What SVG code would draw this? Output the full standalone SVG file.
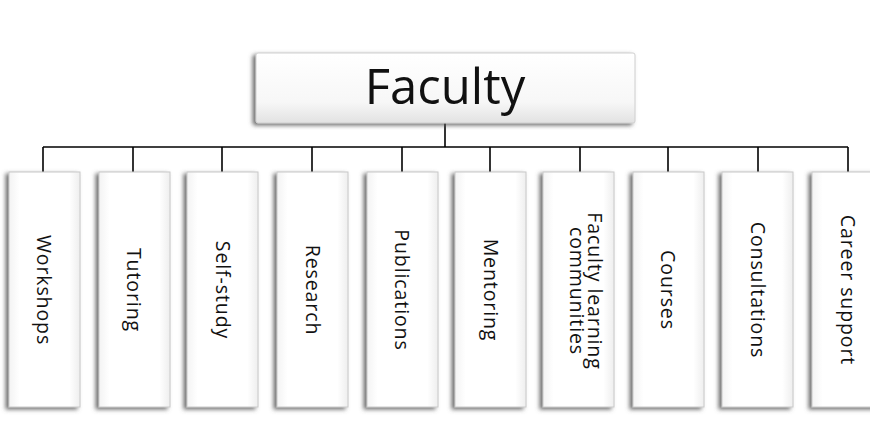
<svg xmlns="http://www.w3.org/2000/svg" width="870" height="446" viewBox="0 0 870 446">
  <defs>
    <filter id="shadow" x="-30%" y="-10%" width="160%" height="120%">
      <feGaussianBlur in="SourceAlpha" stdDeviation="2"/>
      <feOffset dx="-3" dy="2" result="b"/>
      <feFlood flood-color="#555" flood-opacity="0.85"/>
      <feComposite in2="b" operator="in"/>
      <feMerge><feMergeNode/><feMergeNode in="SourceGraphic"/></feMerge>
    </filter>
    <linearGradient id="topFill" x1="0" y1="0" x2="0" y2="1">
      <stop offset="0" stop-color="#ffffff"/>
      <stop offset="0.7" stop-color="#f7f7f7"/>
      <stop offset="1" stop-color="#e2e2e2"/>
    </linearGradient>
    <linearGradient id="childFill" x1="0" y1="0" x2="1" y2="0">
      <stop offset="0" stop-color="#f3f3f3"/>
      <stop offset="0.15" stop-color="#ffffff"/>
      <stop offset="0.85" stop-color="#ffffff"/>
      <stop offset="1" stop-color="#eeeeee"/>
    </linearGradient>
  </defs>
  <style>
    .box { fill: url(#childFill); stroke: #c8c8c8; stroke-width: 1; filter: url(#shadow); }
    .top { fill: url(#topFill); stroke: #cfcfcf; stroke-width: 1; filter: url(#shadow); }
    .lbl { font-family: "Open Sans", "Liberation Sans", sans-serif; font-size: 19.5px; letter-spacing: 0.9px; fill: #111; text-anchor: middle; }
    .title { font-family: "Open Sans", "Liberation Sans", sans-serif; font-size: 49px; fill: #111; text-anchor: middle; }
    .wire { stroke: #000; stroke-width: 1.6; fill: none; }
  </style>

  <!-- connectors -->
  <g id="connectors">
    <line class="wire" x1="445" y1="123" x2="445" y2="147" stroke-width="3"/>
    <line class="wire" x1="43" y1="147" x2="848" y2="147"/>
    <line class="wire" x1="43" y1="147" x2="43" y2="172"/>
    <line class="wire" x1="133" y1="147" x2="133" y2="172"/>
    <line class="wire" x1="222" y1="147" x2="222" y2="172"/>
    <line class="wire" x1="312" y1="147" x2="312" y2="172"/>
    <line class="wire" x1="402" y1="147" x2="402" y2="172"/>
    <line class="wire" x1="490" y1="147" x2="490" y2="172"/>
    <line class="wire" x1="580" y1="147" x2="580" y2="172"/>
    <line class="wire" x1="668" y1="147" x2="668" y2="172"/>
    <line class="wire" x1="758" y1="147" x2="758" y2="172"/>
    <line class="wire" x1="848" y1="147" x2="848" y2="172"/>
  </g>

  <!-- root -->
  <g id="faculty">
    <rect class="top" x="256" y="53" width="379" height="70" rx="2"/>
    <text class="title" x="445" y="104">Faculty</text>
  </g>

  <!-- children -->
  <g id="workshops">
    <rect class="box" x="9" y="172" width="71" height="235"/>
    <text class="lbl" transform="translate(37 290) rotate(90)">Workshops</text>
  </g>
  <g id="tutoring">
    <rect class="box" x="99" y="172" width="71" height="235"/>
    <text class="lbl" transform="translate(127 290) rotate(90)">Tutoring</text>
  </g>
  <g id="self-study">
    <rect class="box" x="187" y="172" width="71" height="235"/>
    <text class="lbl" transform="translate(216 290) rotate(90)">Self-study</text>
  </g>
  <g id="research">
    <rect class="box" x="277" y="172" width="71" height="235"/>
    <text class="lbl" transform="translate(306 290) rotate(90)">Research</text>
  </g>
  <g id="publications">
    <rect class="box" x="367" y="172" width="71" height="235"/>
    <text class="lbl" transform="translate(395 290) rotate(90)">Publications</text>
  </g>
  <g id="mentoring">
    <rect class="box" x="455" y="172" width="71" height="235"/>
    <text class="lbl" transform="translate(484 290) rotate(90)">Mentoring</text>
  </g>
  <g id="faculty-learning-communities">
    <rect class="box" x="543" y="172" width="71" height="235"/>
    <text class="lbl" transform="translate(588 291) rotate(90)">Faculty learning</text>
    <text class="lbl" transform="translate(570 291) rotate(90)">communities</text>
  </g>
  <g id="courses">
    <rect class="box" x="633" y="172" width="71" height="235"/>
    <text class="lbl" transform="translate(661 290) rotate(90)">Courses</text>
  </g>
  <g id="consultations">
    <rect class="box" x="722" y="172" width="71" height="235"/>
    <text class="lbl" transform="translate(751 290) rotate(90)">Consultations</text>
  </g>
  <g id="career-support">
    <rect class="box" x="812" y="172" width="71" height="235"/>
    <text class="lbl" transform="translate(841 290) rotate(90)">Career support</text>
  </g>
</svg>
